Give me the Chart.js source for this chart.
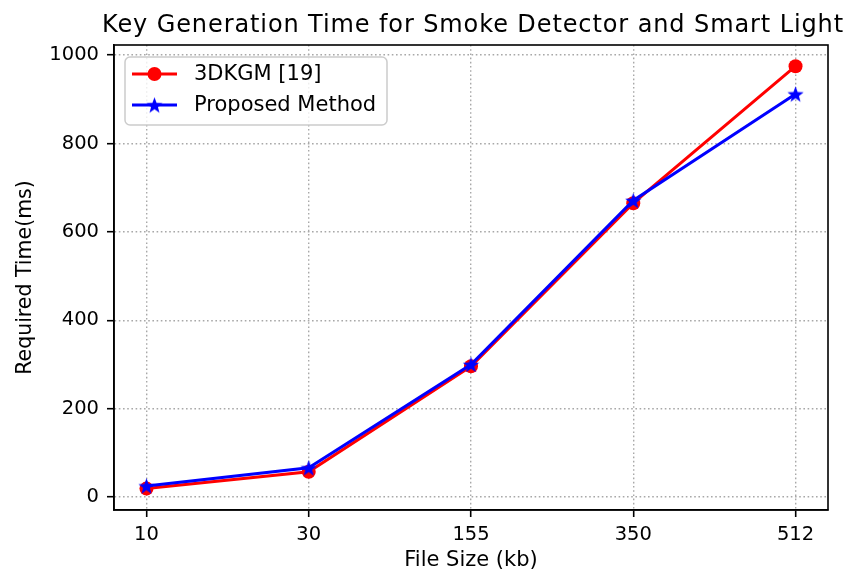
<!DOCTYPE html>
<html lang="en">
<head>
<meta charset="UTF-8">
<title>Key Generation Time</title>
<script src="https://cdn.jsdelivr.net/npm/chart.js@4.4.0/dist/chart.umd.min.js"></script>
<style>
  html, body { margin: 0; padding: 0; background: #fff; }
  #wrap { width: 848px; height: 573px; position: relative; }
</style>
</head>
<body>
<div id="wrap"><canvas id="chart"></canvas></div>
<script>
// data
const fileSizes = ['10', '30', '155', '350', '512'];
const dkgmTimes = [19, 57, 296, 665, 975];
const proposedTimes = [25, 66, 300, 671, 912];
const yTicks = [0, 200, 400, 600, 800, 1000];
const chartTitle = 'Key Generation Time for Smoke Detector and Smart Light';

const FONT = "'DejaVu Sans', sans-serif";

// filled five point star for the blue markers
function makeStar(size, color) {
    const c = document.createElement('canvas');
    c.width = size; c.height = size;
    const g = c.getContext('2d');
    const cx = size / 2, cy = size / 2 + 0.8;
    const outer = size / 2, inner = outer * 0.42;
    g.beginPath();
    for (let i = 0; i < 10; i++) {
        const r = i % 2 === 0 ? outer : inner;
        const a = -Math.PI / 2 + i * Math.PI / 5;
        const px = cx + r * Math.cos(a), py = cy + r * Math.sin(a);
        if (i === 0) g.moveTo(px, py); else g.lineTo(px, py);
    }
    g.closePath();
    g.fillStyle = color;
    g.fill();
    return c;
}
const starImg = makeStar(17, '#0000ff');

// frame around plot, title over the axes, legend box inside the axes
const framePlugin = {
    id: 'frame',
    afterDatasetsDraw(chart) {
        const { ctx, chartArea: a } = chart;
        ctx.save();
        ctx.strokeStyle = '#000';
        ctx.lineWidth = 1.6;
        ctx.strokeRect(a.left, a.top, a.right - a.left, a.bottom - a.top);

        // title centred over the plot area
        ctx.fillStyle = '#000';
        ctx.font = '24px ' + FONT;
        ctx.letterSpacing = '0.9px';
        ctx.textAlign = 'center';
        ctx.textBaseline = 'alphabetic';
        ctx.fillText(chartTitle, (a.left + a.right) / 2 + 2, 32);
        ctx.letterSpacing = '0px';
        ctx.textAlign = 'left';

        // legend
        const bx = 125, by = 57, bw = 262, bh = 68, r = 5;
        ctx.beginPath();
        ctx.roundRect(bx, by, bw, bh, r);
        ctx.fillStyle = 'rgba(255,255,255,0.8)';
        ctx.fill();
        ctx.strokeStyle = '#cccccc';
        ctx.lineWidth = 1.5;
        ctx.stroke();

        const rows = [
            { label: '3DKGM [19]', color: '#ff0000', y: 74, marker: 'circle' },
            { label: 'Proposed Method', color: '#0000ff', y: 105, marker: 'star' }
        ];
        rows.forEach(row => {
            ctx.strokeStyle = row.color;
            ctx.lineWidth = 3;
            ctx.beginPath();
            ctx.moveTo(132, row.y);
            ctx.lineTo(177, row.y);
            ctx.stroke();
            if (row.marker === 'circle') {
                ctx.fillStyle = row.color;
                ctx.beginPath();
                ctx.arc(154.5, row.y, 7, 0, Math.PI * 2);
                ctx.fill();
            } else {
                ctx.drawImage(starImg, 154.5 - 8.5, row.y - 8.5);
            }
            ctx.fillStyle = '#000';
            ctx.font = '21px ' + FONT;
            ctx.textBaseline = 'middle';
            ctx.fillText(row.label, 194, row.y + 1);
        });
        ctx.restore();
    }
};

const ctx = document.getElementById('chart').getContext('2d');
new Chart(ctx, {
    type: 'line',
    data: {
        datasets: [
            {
                label: '3DKGM [19]',
                data: dkgmTimes.map((v, i) => ({ x: i, y: v })),
                borderColor: '#ff0000',
                backgroundColor: '#ff0000',
                borderWidth: 3,
                pointRadius: 7,
                pointHoverRadius: 7,
                pointBorderWidth: 0,
                pointStyle: 'circle',
                tension: 0,
                order: 1
            },
            {
                label: 'Proposed Method',
                data: proposedTimes.map((v, i) => ({ x: i, y: v })),
                borderColor: '#0000ff',
                backgroundColor: '#0000ff',
                borderWidth: 3,
                pointRadius: 8,
                pointStyle: starImg,
                tension: 0,
                order: 0
            }
        ]
    },
    options: {
        responsive: true,
        maintainAspectRatio: false,
        animation: false,
        layout: { padding: { left: 0, right: 20, top: 45, bottom: 0 } },
        plugins: {
            legend: { display: false },
            tooltip: { enabled: false },
            title: { display: false }
        },
        scales: {
            x: {
                type: 'linear',
                min: -0.2,
                max: 4.2,
                afterBuildTicks: axis => { axis.ticks = fileSizes.map((_, i) => ({ value: i })); },
                afterFit: axis => { axis.height = 63; },
                ticks: {
                    color: '#000',
                    font: { family: FONT, size: 19.5 },
                    padding: 6,
                    maxRotation: 0,
                    callback: v => fileSizes[v]
                },
                grid: {
                    color: '#a8a8a8',
                    lineWidth: 1.4,
                    tickColor: '#000',
                    tickLength: 7,
                    tickWidth: 1.6,
                    tickBorderDash: []
                },
                border: { display: true, color: '#000', width: 1.6, dash: [1.6, 2.6] },
                title: {
                    display: true,
                    text: 'File Size (kb)',
                    color: '#000',
                    font: { family: FONT, size: 21, lineHeight: 1.2 },
                    padding: { top: 0, bottom: 0 }
                }
            },
            y: {
                type: 'linear',
                min: -29.4,
                max: 1023,
                afterBuildTicks: axis => { axis.ticks = yTicks.map(v => ({ value: v })); },
                afterFit: axis => { axis.width = 114; },
                ticks: {
                    color: '#000',
                    font: { family: FONT, size: 19.5 },
                    padding: 8,
                    callback: v => String(v)
                },
                grid: {
                    color: '#a8a8a8',
                    lineWidth: 1.4,
                    tickColor: '#000',
                    tickLength: 7,
                    tickWidth: 1.6,
                    tickBorderDash: []
                },
                border: { display: true, color: '#000', width: 1.6, dash: [1.6, 2.6] },
                title: {
                    display: true,
                    text: 'Required Time(ms)',
                    color: '#000',
                    font: { family: FONT, size: 20.5, lineHeight: 1.2 },
                    padding: { top: 13, bottom: 0 }
                }
            }
        }
    },
    plugins: [framePlugin]
});
</script>
</body>
</html>
